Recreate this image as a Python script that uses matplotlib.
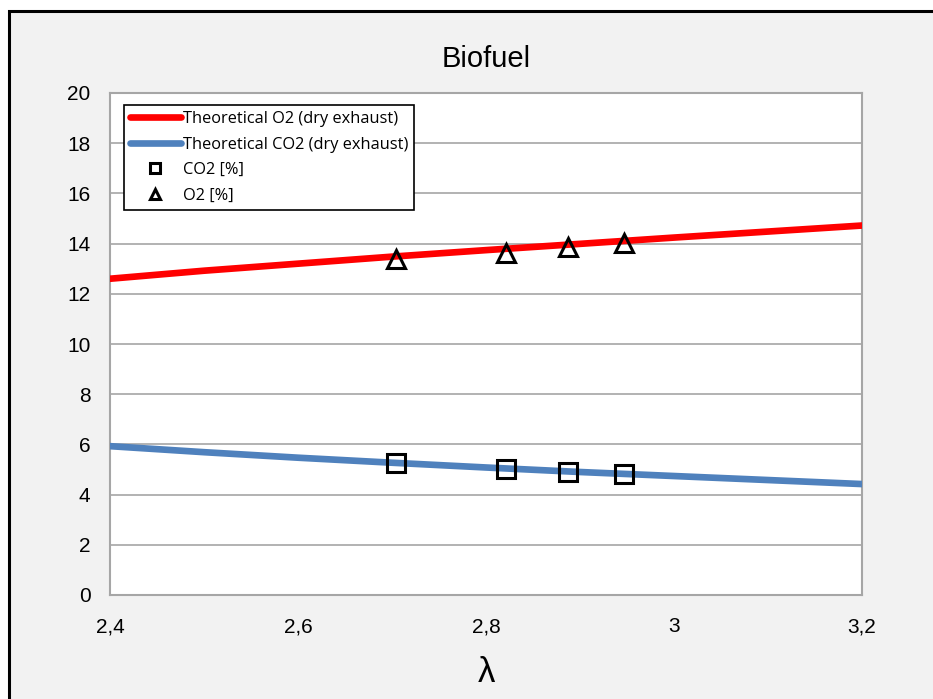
import matplotlib
matplotlib.use("Agg")
import matplotlib.pyplot as plt
from matplotlib.patches import Rectangle
from matplotlib.ticker import FuncFormatter, MultipleLocator

# Data
lam_theory = [2.4, 2.5, 2.6, 2.7, 2.8, 2.9, 3.0, 3.1, 3.2]
o2_theory = [12.6, 12.92, 13.2, 13.48, 13.74, 13.99, 14.24, 14.48, 14.72]
co2_theory = [5.93, 5.69, 5.47, 5.27, 5.08, 4.90, 4.74, 4.58, 4.42]
lam_meas = [2.704, 2.821, 2.887, 2.947]
co2_meas = [5.26, 5.02, 4.90, 4.82]
o2_meas = [13.39, 13.63, 13.86, 14.02]

plt.rcParams['font.family'] = ['Liberation Sans', 'DejaVu Sans']

fig = plt.figure(figsize=(9.33, 6.99), dpi=100)
fig.patch.set_facecolor('white')
fig.patches.append(Rectangle((9/933, -0.01), 1.0, 1 - 11/699 + 0.01, transform=fig.transFigure,
                             facecolor='#f2f2f2', edgecolor='black', linewidth=2.2, zorder=-10))

ax = fig.add_axes([110/933, 1 - 595/699, 752/933, 502/699])
ax.set_facecolor('white')

ax.plot(lam_theory, o2_theory, color='#ff0000', lw=4.8, solid_capstyle='round',
        label='Theoretical O2 (dry exhaust)', zorder=3)
ax.plot(lam_theory, co2_theory, color='#4f81bd', lw=4.8, solid_capstyle='round',
        label='Theoretical CO2 (dry exhaust)', zorder=3)
ax.plot(lam_meas, co2_meas, ls='none', marker='s', ms=13, mfc='none', mec='black', mew=2.2,
        label='CO2 [%]', zorder=4)
ax.plot(lam_meas, o2_meas, ls='none', marker='^', ms=13, mfc='none', mec='black', mew=2.2,
        label='O2 [%]', zorder=4)

ax.set_xlim(2.4, 3.2)
ax.set_ylim(0, 20)
ax.xaxis.set_major_locator(MultipleLocator(0.2))
ax.yaxis.set_major_locator(MultipleLocator(2))
ax.xaxis.set_major_formatter(FuncFormatter(lambda v, p: ('%g' % round(v, 2)).replace('.', ',')))
ax.grid(axis='y', color='#a6a6a6', lw=1.2)
ax.set_axisbelow(True)
for s in ax.spines.values():
    s.set_color('#a6a6a6')
    s.set_linewidth(1.5)
ax.tick_params(length=0, labelsize=15)
ax.tick_params(axis='x', pad=16)
ax.tick_params(axis='y', pad=14)

ax.set_title('Biofuel', fontsize=21, pad=19)
ax.set_xlabel('λ', fontsize=25, labelpad=14)

leg = ax.legend(loc='upper left', bbox_to_anchor=(0.018, 0.977),
                frameon=True, fancybox=False, edgecolor='black', framealpha=1,
                handlelength=3.1, handletextpad=0.1, borderpad=0.4, labelspacing=0.58,
                borderaxespad=0, prop={'family': 'Open Sans', 'size': 11.8})
leg.get_frame().set_linewidth(1.2)
for h in leg.legend_handles[2:]:
    h.set_markersize(7)
    h.set_markeredgewidth(2.2)

fig.savefig('out.png', dpi=100)
